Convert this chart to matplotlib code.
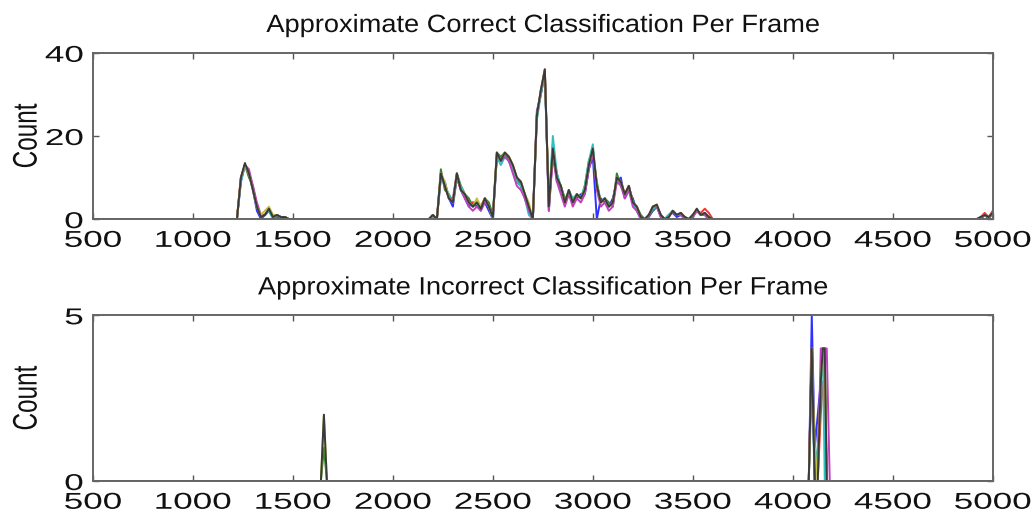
import numpy as np
import matplotlib
matplotlib.use("Agg")
import matplotlib.pyplot as plt
from matplotlib.patheffects import AbstractPathEffect
from matplotlib.transforms import Affine2D

# frames sampled for the "correct" plot
frames = np.r_[500, 1200:1481:20, 2180:3601:20, 4900:5001:20]

# counts per series (matlab default colour order b g r c m y k)
count_b = [0,
           0, 0, 9, 13, 11, 7, 2, 0, 1, 2, 0.5, 1, 0, 0.5, 0,
           0, 0.5, 0, 10, 9, 5, 3, 10, 7,
           5, 3, 4, 3, 3, 4, 2, 0, 15,
           15, 15, 14, 12, 9, 8, 5, 2, 0,
           26, 30, 35, 2, 16, 11, 7, 5, 6,
           5, 5, 6, 6, 12, 15, 0, 5, 4,
           3, 5, 9, 10, 5, 7, 5, 2, 0,
           0, 0.5, 2, 3, 0.5, 0, 1, 1.5, 0.5,
           1, 0, 0, 0.5, 2, 1, 1, 0, 0,
           0, 0, 0, 1, 0.5, 1]
count_g = [0,
           0, 0, 10, 13, 10, 8, 3, 1, 1, 2, 0.5, 0.5, 0.5, 0, 0,
           0, 1, 0, 12, 7, 6, 4, 11, 8,
           6, 5, 3, 4, 3, 5, 4, 1, 16,
           15, 16, 14, 12, 10, 8, 6, 3, 0,
           24, 31, 35, 4, 18, 9, 8, 5, 6,
           4, 6, 5, 8, 14, 16, 9, 4, 5,
           4, 3, 11, 8, 6, 8, 4, 3, 1,
           0, 1, 2, 3, 1, 0, 1, 2, 1,
           1, 0.5, 0, 1, 2, 1, 1.5, 0.5, 0,
           0, 0, 0.5, 1, 0, 1.5]
count_r = [0,
           0, 0, 10, 13, 11, 7, 3, 0.5, 1, 2, 0.5, 1, 0.5, 0.5, 0,
           0, 1, 0, 11, 8, 5, 4, 10, 7,
           6, 4, 4, 4, 3, 5, 3, 0.5, 15,
           14, 16, 15, 13, 10, 9, 6, 3, 0,
           25, 30, 36, 3, 16, 10, 8, 4, 7,
           4, 6, 5, 7, 13, 16, 8, 4, 5,
           3, 4, 10, 9, 6, 8, 4, 3, 0.5,
           0, 1, 3, 3, 1, 0, 0.5, 2, 1,
           1.5, 0.5, 0, 1, 2, 1.5, 2.5, 1.5, 0,
           0, 0, 0.5, 1.5, 0.5, 2]
count_c = [0,
           0, 0, 9, 13, 11, 7, 3, 0.5, 1, 2, 0, 1, 0.5, 0.5, 0,
           0, 0.5, 0, 10, 8, 6, 4, 10, 8,
           6, 4, 3, 4, 2, 5, 3, 0, 15,
           13, 15, 14, 12, 9, 8, 5, 1, 0,
           24, 30, 35, 3, 20, 11, 8, 4, 7,
           5, 6, 5, 8, 14, 18, 8, 4, 5,
           3, 4, 10, 9, 5, 8, 4, 2, 0.5,
           0, 1, 2.5, 3, 1, 0, 1, 2, 1,
           1.5, 0.5, 0, 1, 2, 1, 1, 0.5, 0,
           0, 0, 0.5, 1, 0.5, 1]
count_m = [0,
           0, 0, 10, 13, 12, 8, 4, 1, 1, 2.5, 1, 1, 0.5, 0.5, 0,
           0, 1, 0, 11, 8, 5, 5, 11, 7,
           5, 3, 2, 3, 2, 4, 3, 0.5, 16,
           14, 15, 14, 11, 8, 7, 5, 2, 0,
           25, 31, 36, 2, 15, 9, 6, 3, 6,
           3, 5, 4, 6, 12, 16, 7, 3, 4,
           2, 3, 9, 8, 5, 7, 3, 2, 0,
           0, 0.5, 3, 3, 0.5, 0, 0.5, 2, 1,
           1, 0, 0, 0.5, 2, 1, 1, 0, 0,
           0, 0, 0, 1, 0.5, 1.5]
count_y = [0,
           0, 0, 10, 13, 11, 7, 3, 1, 2, 3, 1, 1, 0.5, 0.5, 0,
           0, 1, 0, 11, 9, 5, 4, 11, 7,
           6, 4, 3, 5, 3, 5, 3, 0.5, 16,
           14, 16, 15, 13, 10, 9, 6, 4, 0,
           25, 31, 36, 3, 17, 10, 8, 4, 7,
           4, 6, 5, 7, 13, 17, 8, 4, 5,
           3, 4, 10, 9, 6, 8, 4, 3, 0.5,
           0, 1, 3, 3.5, 1, 0, 0.5, 2, 1,
           1.5, 0.5, 0, 1, 2.5, 1, 1.5, 0.5, 0,
           0, 0, 0.5, 1, 0.5, 1.5]
count_k = [0,
           0, 0, 10, 13.5, 11, 7, 3, 0.5, 1, 2.5, 0.5, 1, 0.5, 0.5, 0,
           0, 1, 0, 11, 8, 5, 4, 11, 7,
           6, 4, 3, 4, 2.5, 5, 3, 0.5, 16,
           14, 16, 15, 13, 10, 9, 6, 3, 0,
           25, 31, 36, 3, 17, 10, 8, 4, 7,
           4, 6, 5, 7, 13, 17, 8, 4, 5,
           3, 4, 10, 9, 6, 8, 4, 3, 0.5,
           0, 1, 3, 3.5, 1, 0, 0.5, 2, 1,
           1.5, 0.5, 0, 1, 2.5, 1, 1.5, 0.5, 0,
           0, 0, 0.5, 1, 0.5, 1.5]

# incorrect classification
frames_inc = [500, 1640, 1655, 1670, 4080, 4095, 4110, 4125, 4140, 4150, 4160, 4170, 4185, 5000]
inc_b = [0, 0, 0, 0, 0, 5, 1, 2, 3, 4, 3, 0, 0, 0]
inc_g = [0, 0, 1, 0, 0, 4, 0, 1, 3, 4, 4, 0, 0, 0]
inc_r = [0, 0, 0, 0, 0, 4, 0, 0, 2, 3, 3, 0, 0, 0]
inc_c = [0, 0, 0, 0, 0, 3, 0, 1, 3, 4, 0, 0, 0, 0]
inc_m = [0, 0, 0, 0, 0, 4, 0, 0, 4, 4, 4, 4, 0, 0]
inc_y = [0, 0, 2, 0, 0, 4, 1, 0, 3, 4, 4, 0, 0, 0]
inc_k = [0, 0, 2, 0, 0, 4, 0, 0, 3, 4, 4, 0, 0, 0]

colors = ['#3030ff', '#2a8a2a', '#ff3030', '#30c0c0', '#c040c0', '#c0c040', '#3a3a3a']
xticks = np.arange(500, 5001, 500)


# the reference picture is squeezed sideways, stretch the text to match
class StretchX(AbstractPathEffect):
    def __init__(self, sx, frac):
        super().__init__()
        self.sx = sx
        self.frac = frac

    def draw_path(self, renderer, gc, tpath, affine, rgbFace=None):
        bb = tpath.get_extents(affine)
        x0 = bb.x0 + self.frac * bb.width
        t = affine + Affine2D().translate(-x0, 0).scale(self.sx, 1).translate(x0, 0)
        renderer.draw_path(gc, tpath, t, rgbFace)


plt.rcParams['font.family'] = ['Liberation Sans', 'DejaVu Sans']
plt.rcParams['font.size'] = 16

fig = plt.figure(figsize=(10.33, 5.18), dpi=100)
ax1 = fig.add_axes([0.090, 0.577, 0.871, 0.321])
ax2 = fig.add_axes([0.090, 0.0714, 0.871, 0.320])

for series, c in zip([count_b, count_g, count_r, count_c, count_m, count_y, count_k], colors):
    ax1.plot(frames, series, color=c, lw=1.4)
for series, c in zip([inc_b, inc_g, inc_r, inc_c, inc_m, inc_y, inc_k], colors):
    ax2.plot(frames_inc, series, color=c, lw=1.4)

ax1.set_ylim(0, 40)
ax1.set_yticks([0, 20, 40])
ax2.set_ylim(0, 5)
ax2.set_yticks([0, 5])

titles = ['Approximate Correct Classification Per Frame',
          'Approximate Incorrect Classification Per Frame']
for ax, title in zip([ax1, ax2], titles):
    ax.set_xlim(500, 5000)
    ax.set_xticks(xticks)
    ax.tick_params(direction='in', length=4, width=1, color='#555555',
                   top=True, right=True, labelcolor='#111111', labelsize=16.5)
    ax.tick_params(axis='x', pad=7)
    ax.tick_params(axis='y', pad=7)
    for sp in ax.spines.values():
        sp.set_color('#666666')
        sp.set_linewidth(1.4)
    ax.set_title(title, pad=15, color='#111111', fontsize=18)
    ax.set_ylabel('Count', color='#111111', fontsize=17.5)
    ax.yaxis.set_label_coords(-0.057, 0.5)

# measure text and pick stretch factors so widths match the reference
fig.canvas.draw()
rend = fig.canvas.get_renderer()
title_sx = 553 / ax1.title.get_window_extent(rend).width
tick_sx = 78 / ax1.get_xticklabels()[-1].get_window_extent(rend).width
label_sx = 1.4

for ax in [ax1, ax2]:
    ax.title.set_path_effects([StretchX(title_sx, 0.5)])
    ax.yaxis.label.set_path_effects([StretchX(label_sx, 1.0)])
    for lab in ax.get_xticklabels():
        lab.set_path_effects([StretchX(tick_sx, 0.5)])
    for lab in ax.get_yticklabels():
        lab.set_path_effects([StretchX(tick_sx, 1.0)])

fig.savefig('out.png', dpi=100)
